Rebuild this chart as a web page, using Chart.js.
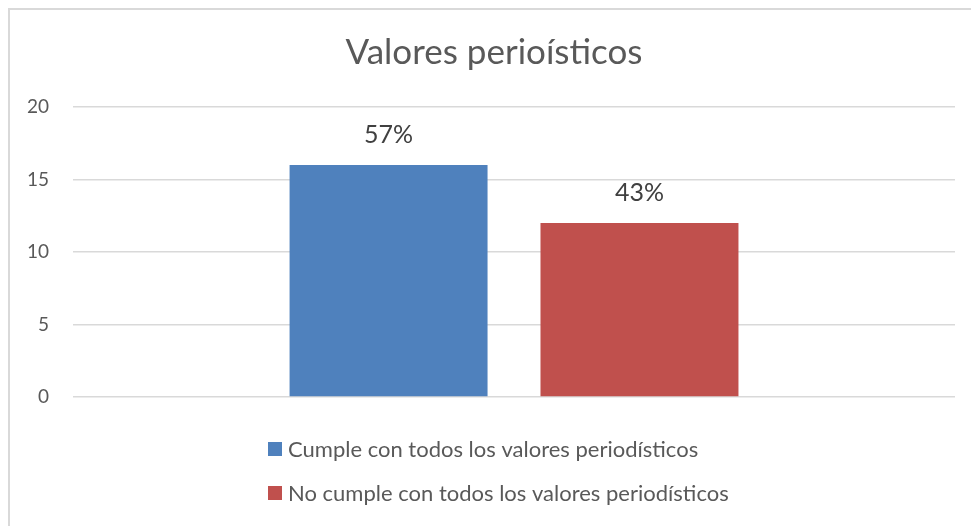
<!DOCTYPE html>
<html>
<head>
<meta charset="utf-8">
<title>Valores perioísticos</title>
<script src="https://cdn.jsdelivr.net/npm/chart.js@4/dist/chart.umd.min.js"></script>
<style>
  html, body { margin: 0; padding: 0; background: #fff; overflow: hidden; }
  #frame {
    position: absolute; left: 8px; top: 8px;
    width: 1000px; height: 600px;
    border: 2px solid #d9d9d9; box-sizing: border-box;
  }
  #wrap { position: absolute; left: 0; top: 0; width: 971px; height: 526px; }
</style>
</head>
<body>
<div id="frame"></div>
<div id="wrap"><canvas id="mycanvas"></canvas></div>
<script>
var chartTitle = 'Valores perioísticos';
var categories = [''];
var seriesNames = ['Cumple con todos los valores periodísticos', 'No cumple con todos los valores periodísticos'];
var seriesValues = [16, 12];
var seriesLabels = ['57%', '43%'];
var seriesColors = ['#4f81bd', '#c0504d'];
var yTicks = [0, 5, 10, 15, 20];

var textColor = '#595959';
var fontFamily = 'Lato, "Open Sans", sans-serif';

// title, centred on the whole frame like excel does
var frameTitle = {
  id: 'frameTitle',
  afterDraw: function (chart) {
    var ctx = chart.ctx;
    ctx.save();
    ctx.font = '35px ' + fontFamily;
    ctx.fillStyle = textColor;
    ctx.textAlign = 'center';
    ctx.textBaseline = 'middle';
    ctx.fillText(chartTitle, 494, 53);
    ctx.restore();
  }
};

// percent labels above each bar
var barLabels = {
  id: 'barLabels',
  afterDatasetsDraw: function (chart) {
    var ctx = chart.ctx;
    ctx.save();
    ctx.font = '25px ' + fontFamily;
    ctx.fillStyle = '#404040';
    ctx.textAlign = 'center';
    ctx.textBaseline = 'middle';
    chart.data.datasets.forEach(function (ds, i) {
      var bar = chart.getDatasetMeta(i).data[0];
      ctx.fillText(seriesLabels[i], bar.x, bar.y - 30);
    });
    ctx.restore();
  }
};

// excel-like legend: rows stacked, left aligned
var stackLegend = {
  id: 'stackLegend',
  afterDraw: function (chart) {
    var ctx = chart.ctx;
    var area = chart.chartArea;
    ctx.save();
    ctx.font = '22px ' + fontFamily;
    ctx.textBaseline = 'middle';
    ctx.textAlign = 'left';
    for (var i = 0; i < seriesNames.length; i++) {
      var y = area.bottom + 52 + i * 44;
      ctx.fillStyle = seriesColors[i];
      ctx.fillRect(268, y - 7, 14, 14);
      ctx.fillStyle = textColor;
      ctx.fillText(seriesNames[i], 288, y + 1);
    }
    ctx.restore();
  }
};

var datasets = [];
for (var i in seriesNames) {
  datasets.push({
    label: seriesNames[i],
    data: [seriesValues[i]],
    backgroundColor: seriesColors[i],
    borderWidth: 0,
    categoryPercentage: 0.569,
    barPercentage: 0.789
  });
}

var ctx = document.getElementById('mycanvas');

var barGraph = new Chart(ctx, {
  type: 'bar',
  data: {
    labels: categories,
    datasets: datasets
  },
  options: {
    responsive: true,
    maintainAspectRatio: false,
    animation: false,
    layout: { padding: { left: 3, right: 16, top: 107, bottom: 129 } },
    plugins: {
      legend: { display: false },
      tooltip: { enabled: false },
      title: { display: false }
    },
    scales: {
      x: { display: false },
      y: {
        min: 0,
        max: 20,
        afterBuildTicks: function (axis) {
          axis.ticks = yTicks.map(function (v) { return { value: v }; });
        },
        border: { display: false },
        grid: { color: '#d9d9d9', lineWidth: 1.5, drawTicks: false },
        ticks: {
          color: textColor,
          padding: 24,
          font: { family: fontFamily, size: 19 }
        }
      }
    }
  },
  plugins: [frameTitle, barLabels, stackLegend]
});
</script>
</body>
</html>
